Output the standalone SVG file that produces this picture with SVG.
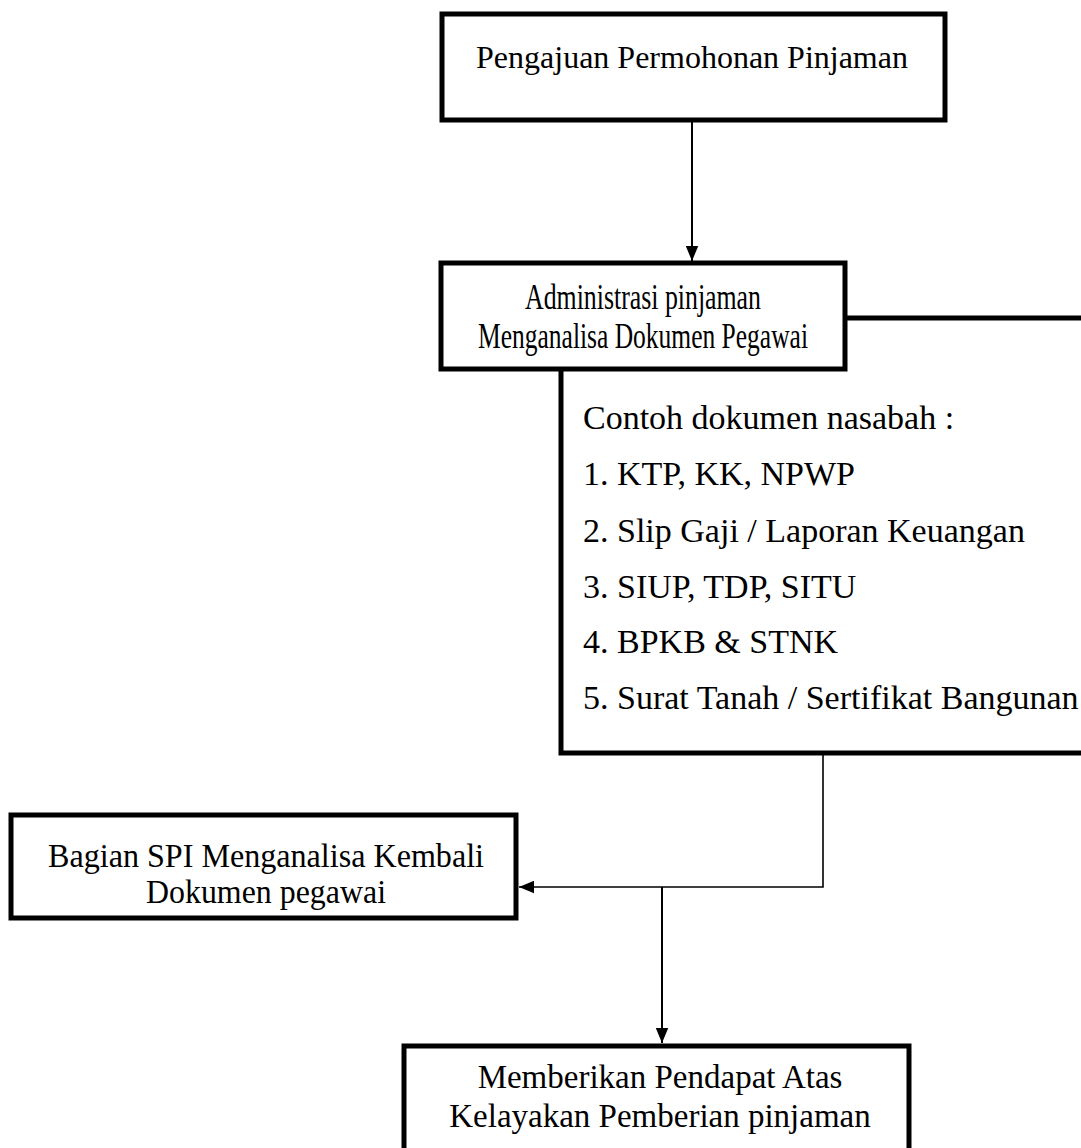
<svg xmlns="http://www.w3.org/2000/svg" width="1081" height="1148" viewBox="0 0 1081 1148">
  <style>
    .box { fill: #fff; stroke: #000; stroke-width: 5; }
    .t { font-family: "Liberation Serif", "Times New Roman", serif; font-size: 32px; fill: #000; }
    .l { font-size: 34px; }
    .c { text-anchor: middle; }
    .ln { fill: none; stroke: #000; stroke-width: 2; }
    .thin { stroke-width: 1.6; }
  </style>
  <defs>
    <marker id="ah" viewBox="0 0 12 10" refX="12" refY="5" markerWidth="15" markerHeight="13" markerUnits="userSpaceOnUse" orient="auto">
      <path d="M0,0 L12,5 L0,10 Z" fill="#000"/>
    </marker>
  </defs>

  <g id="docs">
    <rect class="box" x="561" y="318" width="560" height="435"/>
    <text class="t l" x="583" y="429">Contoh dokumen nasabah :</text>
    <text class="t l" x="583" y="485">1. KTP, KK, NPWP</text>
    <text class="t l" x="583" y="542">2. Slip Gaji / Laporan Keuangan</text>
    <text class="t l" x="583" y="598">3. SIUP, TDP, SITU</text>
    <text class="t l" x="583" y="653">4. BPKB &amp; STNK</text>
    <text class="t l" x="583" y="709">5. Surat Tanah / Sertifikat Bangunan</text>
  </g>

  <g id="connectors">
    <line class="ln" x1="692" y1="120" x2="692" y2="261" marker-end="url(#ah)"/>
    <polyline class="ln thin" points="823,753 823,887 519,887" marker-end="url(#ah)"/>
    <line class="ln" x1="662" y1="887" x2="662" y2="1043" marker-end="url(#ah)"/>
  </g>

  <g id="n1">
    <rect class="box" x="442" y="14" width="503" height="106"/>
    <text class="t c" x="692" y="68">Pengajuan Permohonan Pinjaman</text>
  </g>

  <g id="n2">
    <rect class="box" x="441" y="263" width="404" height="106"/>
    <text class="t c" x="643" y="309" style="font-size:35px" textLength="236" lengthAdjust="spacingAndGlyphs">Administrasi pinjaman</text>
    <text class="t c" x="643" y="348" style="font-size:35px" textLength="330" lengthAdjust="spacingAndGlyphs">Menganalisa Dokumen Pegawai</text>
  </g>

  <g id="n3">
    <rect class="box" x="11" y="815" width="505" height="103"/>
    <text class="t c" x="266" y="867" style="font-size:34px" textLength="436" lengthAdjust="spacingAndGlyphs">Bagian SPI Menganalisa Kembali</text>
    <text class="t c" x="266" y="903" style="font-size:34px" textLength="240" lengthAdjust="spacingAndGlyphs">Dokumen pegawai</text>
  </g>

  <g id="n4">
    <rect class="box" x="404" y="1046" width="505" height="120"/>
    <text class="t c" x="660" y="1088" style="font-size:33px">Memberikan Pendapat Atas</text>
    <text class="t c" x="660" y="1127" style="font-size:33px">Kelayakan Pemberian pinjaman</text>
  </g>
</svg>
